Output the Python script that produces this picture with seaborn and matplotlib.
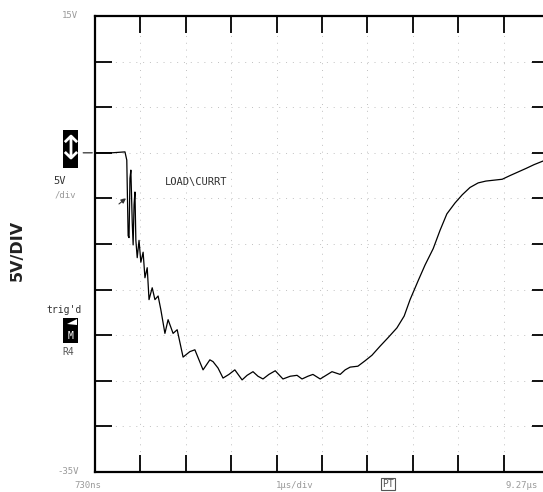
import numpy as np
import pandas as pd
import matplotlib
matplotlib.use("Agg")
import matplotlib.pyplot as plt
import matplotlib.patches as mpatches
import seaborn as sns

# trace (time in us, voltage in V)
time_us = [-0.73, -0.36, -0.07, -0.03, 0.00, 0.02, 0.04, 0.06, 0.09, 0.11, 0.13, 0.15, 0.17, 0.20,
           0.24, 0.28, 0.33, 0.37, 0.42, 0.46, 0.53, 0.59, 0.66, 0.72, 0.81, 0.88, 0.99, 1.08,
           1.21, 1.36, 1.47, 1.56, 1.65, 1.80, 1.87, 1.98, 2.09, 2.22, 2.35, 2.51, 2.62, 2.75,
           2.86, 2.97, 3.10, 3.24, 3.41, 3.57, 3.72, 3.83, 3.96, 4.07, 4.23, 4.36, 4.49, 4.67,
           4.78, 4.89, 5.06, 5.22, 5.37, 5.55, 5.72, 5.92, 6.08, 6.21, 6.39, 6.54, 6.72, 6.87,
           7.02, 7.20, 7.36, 7.53, 7.71, 7.88, 8.06, 8.24, 8.41, 8.59, 8.77, 8.94, 9.14]
volts = [0.0, 0.0, 0.1, -0.8, -9.1, -9.3, -2.8, -1.9, -7.6, -10.1, -5.7, -4.3, -9.6, -11.5,
         -9.6, -12.0, -10.9, -13.7, -12.6, -16.1, -14.8, -16.1, -15.7, -17.2, -19.8, -18.3, -19.8, -19.4,
         -22.4, -21.8, -21.6, -22.7, -23.8, -22.7, -22.9, -23.6, -24.7, -24.3, -23.8, -24.9, -24.4, -24.0,
         -24.5, -24.8, -24.3, -23.9, -24.8, -24.5, -24.4, -24.8, -24.5, -24.3, -24.8, -24.4, -24.0, -24.3,
         -23.8, -23.5, -23.4, -22.8, -22.2, -21.2, -20.3, -19.2, -17.9, -16.1, -14.0, -12.3, -10.5, -8.5,
         -6.7, -5.5, -4.6, -3.8, -3.3, -3.1, -3.0, -2.9, -2.5, -2.1, -1.7, -1.3, -0.9]

t_start, t_end = -0.73, 9.27
v_top, v_bottom = 15, -35
trace_label = "LOAD\\CURRT"

df = pd.DataFrame({"t": time_us, "v": volts})

sns.set_style("white")
W, H = 543, 492
fig = plt.figure(figsize=(W / 100, H / 100), dpi=100)
ax = fig.add_axes([95 / W, 1 - 472 / H, 454 / W, 456 / H])

sns.lineplot(data=df, x="t", y="v", ax=ax, color="black", linewidth=0.9, sort=False)

ax.set_xlim(t_start, t_end)
ax.set_ylim(v_bottom, v_top)
ax.set_xticks(np.arange(t_start, t_end + 0.01, 1.0))
ax.set_yticks(np.arange(v_bottom, v_top + 0.1, 5))
ax.set_xlabel("")
ax.set_ylabel("")
ax.grid(True, color="#c0c0c0", linestyle=(0, (1, 6)), linewidth=0.7)
ax.tick_params(direction="in", length=12, width=1.3, color="black",
               top=True, right=True, bottom=True, left=True,
               labelleft=False, labelbottom=False)
for side in ["left", "top", "bottom", "right"]:
    ax.spines[side].set_color("black")
    ax.spines[side].set_linewidth(1.6)


def px(x, y):
    return x / W, 1 - y / H


mono = "DejaVu Sans Mono"
fig.text(*px(70, 16), "15V", fontsize=6.5, family=mono, color="#9a9a9a", ha="center", va="center")
fig.text(*px(68, 471), "-35V", fontsize=6.5, family=mono, color="#9a9a9a", ha="center", va="center")
fig.text(*px(88, 485), "730ns", fontsize=6.5, family=mono, color="#9a9a9a", ha="center", va="center")
fig.text(*px(295, 485), "1µs/div", fontsize=6.5, family=mono, color="#9a9a9a", ha="center", va="center")
fig.text(*px(388, 484), "PT", fontsize=7, family=mono, color="#555555", ha="center", va="center",
         bbox=dict(boxstyle="square,pad=0.15", fc="white", ec="#555555", lw=0.8))
fig.text(*px(522, 485), "9.27µs", fontsize=6.5, family=mono, color="#9a9a9a", ha="center", va="center")

fig.text(*px(60, 181), "5V", fontsize=7.5, family=mono, color="#333333", ha="center", va="center")
fig.text(*px(65, 195), "/div", fontsize=6.5, family=mono, color="#9a9a9a", ha="center", va="center")
fig.text(*px(64, 310), "trig'd", fontsize=7, family=mono, color="#333333", ha="center", va="center")
fig.text(*px(68, 352), "R4", fontsize=7, family=mono, color="#555555", ha="center", va="center")
fig.text(*px(196, 182), trace_label, fontsize=7.5, family=mono, color="#333333", ha="center", va="center")

fig.text(*px(17, 250), "5V/DIV", fontsize=11.5, fontweight="bold", rotation=90,
         ha="center", va="center", color="#222222")

# channel marker boxes
fig.patches.append(mpatches.Rectangle(px(63, 168), 15 / W, 38 / H, transform=fig.transFigure,
                                      fc="black", ec="none"))
fig.text(*px(70.5, 149), "↕", fontsize=24, color="white", ha="center", va="center")
fig.patches.append(mpatches.Rectangle(px(63, 343), 15 / W, 25 / H, transform=fig.transFigure,
                                      fc="black", ec="none"))
fig.text(*px(70.5, 336), "M", fontsize=7, family=mono, color="white", ha="center", va="center")
fig.patches.append(mpatches.Polygon([px(67, 324), px(77, 319), px(77, 325)], closed=True,
                                    transform=fig.transFigure, fc="white", ec="none"))

# ground reference marker and pointer to the trace
ax.annotate("", xy=(-0.73, 0), xytext=(-1.05, 0), xycoords="data", textcoords="data",
            annotation_clip=False,
            arrowprops=dict(arrowstyle="-", color="#444444", lw=1.0))
ax.annotate("", xy=(0.0, -4.8), xytext=(-0.25, -5.8),
            arrowprops=dict(arrowstyle="-|>", color="#333333", lw=0.8, mutation_scale=7))

fig.savefig("out.png", dpi=100, facecolor="white")
